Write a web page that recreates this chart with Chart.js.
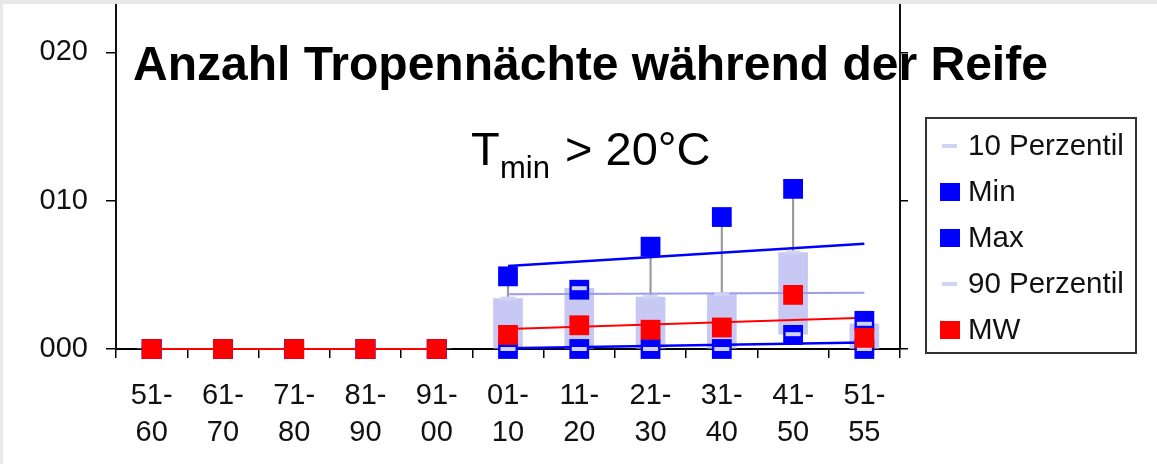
<!DOCTYPE html>
<html><head><meta charset="utf-8">
<script src="https://cdn.jsdelivr.net/npm/chart.js@4.4.1/dist/chart.umd.min.js"></script>
<style>
html,body{margin:0;padding:0;background:#fff;}
#wrap{position:relative;width:1157px;height:464px;overflow:hidden;background:#fff;}
canvas{position:absolute;left:0;top:0;}
.gt{position:absolute;left:0;top:0;width:1157px;height:4px;background:#e8e8e8;}
.gl{position:absolute;left:0;top:0;width:3px;height:464px;background:#e8e8e8;}
</style></head><body>
<div id="wrap"><canvas id="c" width="1157" height="464"></canvas><div class="gt"></div><div class="gl"></div></div>
<script>
// ---- data ----
const categories = [["51-","60"],["61-","70"],["71-","80"],["81-","90"],["91-","00"],["01-","10"],["11-","20"],["21-","30"],["31-","40"],["41-","50"],["51-","55"]];
const yTickValues = [0, 10, 20];
const yTickLabels = ["000", "010", "020"];
const p10  = [0, 0, 0, 0, 0, 0,    0,   0,   0,   1.0,  0];
const p90  = [0, 0, 0, 0, 0, 3.4,  4.1, 3.5, 3.7, 6.5,  1.7];
const minV = [0, 0, 0, 0, 0, 0,    0,   0,   0,   0.95, 0];
const maxV = [0, 0, 0, 0, 0, 4.9,  4.0, 6.9, 8.9, 10.8, 1.9];
const mw   = [0, 0, 0, 0, 0, 0.95, 1.6, 1.3, 1.45, 3.65, 0.75];
// linear trend lines (start at 01-10, end at 51-55)
const maxTrend = [null, null, null, null, null, 5.6,  null, null, null, null, 7.1];
const p90Trend = [null, null, null, null, null, 3.7,  null, null, null, null, 3.8];
const mwTrend  = [null, null, null, null, null, 1.35, null, null, null, null, 2.1];
const minTrend = [null, null, null, null, null, 0.05, null, null, null, null, 0.43];
const histCount = 5; // MW is joined by a line only over the historic decades
const titleText = "Anzahl Tropennächte während der Reife";
const subT = "T", subSub = "min", subRest = "> 20°C";
const legendOrder = ["10 Perzentil", "Min", "Max", "90 Perzentil", "MW"];

const FONT = "'Liberation Sans', Arial, Helvetica, sans-serif";
const BLUE = "#0000ff", RED = "#ff0000", LAV = "#c8c8f4", LAVLINE = "#9c9cee", GRAY = "#9a9a9a";

const boxData = p10.map((v, i) => [v, p90[i]]);
const hiloData = minV.map((v, i) => [v, maxV[i]]);

const rectPt = (label, data, color, order) => ({
  type: 'line', label, data, order, showLine: false, clip: false,
  pointStyle: 'rect', pointRadius: 14, pointHoverRadius: 14,
  pointBackgroundColor: color, pointBorderWidth: 0, borderColor: color, backgroundColor: color
});
const dashPt = (label, data, order) => ({
  type: 'line', label, data, order, showLine: false, clip: false,
  pointStyle: 'line', pointRadius: 7.5, pointHoverRadius: 7.5,
  pointBorderColor: "#d2d2f6", pointBorderWidth: 4, borderColor: "#d2d2f6", backgroundColor: "#d2d2f6"
});
const trend = (label, data, color, width, order) => ({
  type: 'line', label, data, order, spanGaps: true, pointRadius: 0, pointHoverRadius: 0,
  borderColor: color, borderWidth: width, clip: false, fill: false
});

const legendPlugin = {
  id: 'customLegend',
  afterDraw(chart) {
    const ctx = chart.ctx;
    ctx.save();
    // title
    ctx.fillStyle = '#000';
    ctx.textBaseline = 'alphabetic';
    ctx.textAlign = 'left';
    ctx.font = "bold 48px " + FONT;
    ctx.fillText(titleText, 133, 80);
    // subtitle T_min > 20°C
    ctx.font = "47px " + FONT;
    ctx.fillText(subT, 471, 165);
    ctx.font = "31px " + FONT;
    ctx.fillText(subSub, 500, 178);
    ctx.font = "47px " + FONT;
    ctx.fillText(subRest, 565, 165);
    // legend box
    ctx.strokeStyle = '#333';
    ctx.lineWidth = 2;
    ctx.strokeRect(926, 118, 210, 235);
    ctx.font = "29.5px " + FONT;
    ctx.textBaseline = 'middle';
    legendOrder.forEach((lab, k) => {
      const ds = chart.data.datasets.find(d => d.label === lab);
      const y = 146 + k * 46;
      if (ds.pointStyle === 'rect') {
        ctx.fillStyle = ds.pointBackgroundColor;
        ctx.fillRect(940, y - 9, 20, 18);
      } else {
        ctx.strokeStyle = ds.pointBorderColor;
        ctx.lineWidth = 4;
        ctx.beginPath(); ctx.moveTo(942, y); ctx.lineTo(957, y); ctx.stroke();
      }
      ctx.fillStyle = '#111';
      ctx.fillText(lab, 968, y + 1);
    });
    ctx.restore();
  }
};

const ZERO = { left: 0, top: 0, right: 0, bottom: 0 };
const noPad = s => {
  s.paddingTop = 0; s.paddingBottom = 0; s.paddingLeft = 0; s.paddingRight = 0;
  s.getPadding = () => ZERO;
};

new Chart(document.getElementById('c'), {
  type: 'bar',
  data: {
    labels: categories,
    datasets: [
      { type: 'bar', label: 'hilo', data: hiloData, backgroundColor: GRAY, barThickness: 1.5, grouped: false, order: 9 },
      { type: 'bar', label: 'box', data: boxData, backgroundColor: LAV, barThickness: 29, grouped: false, order: 8 },
      trend('maxTrend', maxTrend, BLUE, 2.5, 7),
      trend('p90Trend', p90Trend, LAVLINE, 2, 7),
      trend('mwTrend', mwTrend, RED, 2, 7),
      trend('minTrend', minTrend, BLUE, 2.5, 7),
      rectPt('Min', minV, BLUE, 5),
      rectPt('Max', maxV, BLUE, 4),
      dashPt('10 Perzentil', p10, 3),
      dashPt('90 Perzentil', p90, 2),
      Object.assign(rectPt('MW', mw, RED, 1), {
        showLine: true, borderWidth: 2,
        segment: { borderColor: c => (c.p1DataIndex < histCount ? RED : 'transparent') }
      })
    ]
  },
  options: {
    responsive: false,
    devicePixelRatio: 1,
    animation: false,
    events: [],
    layout: { autoPadding: false, padding: { top: 5, left: 0, right: 0, bottom: 0 } },
    plugins: { legend: { display: false }, tooltip: { enabled: false }, title: { display: false } },
    scales: {
      x: {
        type: 'category', offset: true,
        grid: { offset: true, drawOnChartArea: false, drawTicks: true, tickLength: 9, color: '#000', lineWidth: 1.5 },
        border: { display: true, color: '#000', width: 2 },
        ticks: { autoSkip: false, maxRotation: 0, minRotation: 0, padding: 19, color: '#111',
                 font: { family: FONT, size: 29, lineHeight: '37px' } },
        afterFit: s => { s.height = 115; noPad(s); }
      },
      y: {
        position: 'left', min: 0, max: 23.2,
        afterBuildTicks: s => { s.ticks = yTickValues.map(v => ({ value: v })); },
        grid: { drawOnChartArea: false, drawTicks: true, tickLength: 10, color: '#000', lineWidth: 1.5 },
        border: { display: true, color: '#111', width: 2 },
        ticks: { padding: 18, color: '#111', font: { family: FONT, size: 29 },
                 callback: v => yTickLabels[yTickValues.indexOf(v)] },
        afterFit: s => { s.width = 116; noPad(s); }
      },
      y2: {
        position: 'right', min: 0, max: 23.2,
        afterBuildTicks: s => { s.ticks = yTickValues.map(v => ({ value: v })); },
        grid: { drawOnChartArea: false, drawTicks: true, tickLength: 8, color: '#000', lineWidth: 1.5 },
        border: { display: true, color: '#111', width: 2 },
        ticks: { callback: () => '', font: { size: 1, lineHeight: 1 } },
        afterFit: s => { s.width = 257; noPad(s); }
      }
    }
  },
  plugins: [legendPlugin]
});
</script>
</body></html>
